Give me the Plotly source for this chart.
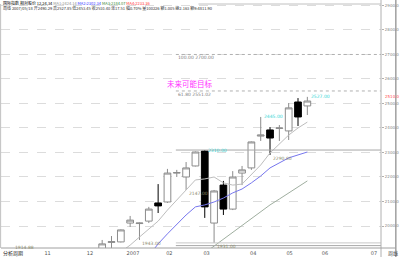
import plotly.graph_objects as go

# ---------------- data (weekly candles) ----------------
dates = ["2006/12/08", "2006/12/15", "2006/12/22", "2006/12/29", "2007/01/05",
         "2007/01/12", "2007/01/19", "2007/01/26", "2007/02/02", "2007/02/09",
         "2007/02/16", "2007/03/02", "2007/03/09", "2007/03/16", "2007/03/23",
         "2007/03/30", "2007/04/06", "2007/04/13", "2007/04/20", "2007/04/27",
         "2007/05/04", "2007/05/11", "2007/05/18"]
opens  = [1895, 1933, 1935, 2012, 2010, 2020, 2094, 2098, 2216, 2200, 2245, 2306,
          2012, 2167, 2069, 2216, 2237, 2367, 2392, 2398, 2388, 2506, 2490]
highs  = [1943, 1959, 1986, 2041, 2014, 2078, 2171, 2233, 2229, 2261, 2304, 2310,
          2147, 2184, 2224, 2245, 2345, 2445, 2404, 2412, 2502, 2522, 2527]
lows   = [1890, 1894, 1933, 1996, 1943, 2012, 2053, 2094, 2200, 2147, 2243, 2033,
          1931, 2045, 2065, 2167, 2229, 2347, 2290, 2347, 2351, 2408, 2453]
closes = [1927, 1936, 1984, 2024, 2012, 2069, 2082, 2216, 2218, 2237, 2302, 2078,
          2143, 2069, 2200, 2229, 2343, 2371, 2359, 2400, 2482, 2445, 2510]

ma1 = [None, None, 1894, 1922, 1955, 1988, 2020, 2065, 2106, 2147, 2188, 2192,
       2200, 2176, 2167, 2171, 2208, 2249, 2298, 2335, 2371, 2400, 2424]
ma2 = [None, None, None, None, None, 1878, 1927, 1968, 2008, 2045, 2078, 2086,
       2098, 2114, 2135, 2151, 2176, 2204, 2237, 2257, 2278, 2290, 2302]
ma3 = [None] * 11 + [1890, 1918, 1943, 1971, 2000, 2029, 2057, 2086, 2110, 2135,
                     2159, 2184]

tick_pos = [-5.85, -1.3, 3.3, 7.2, 11.2, 16.2, 20.1, 23.9, 29.15]
tick_text = ["11", "12", "2007", "02", "03", "04", "05", "06", "07"]
y_ticks = [2000, 2100, 2200, 2300, 2400, 2500, 2600, 2700, 2800, 2900]

fib_anchor = 8            # candle index where the drawn lines begin
fib_base = 2310.0         # 0% level (high of the big black week)
fib_top = 2700.0          # 100% level
fib_levels = [1.0, 0.618, 0.0, -1.0]
support_low = 1931.0      # low of the rebound week

high_labels = [11, 17, 22]
low_labels = [4, 9, 12, 18]
left_low_label = ("1914.88", -9.6, 1914)

target_text = "未来可能目标"
last_price = closes[-1]

x = list(range(len(dates)))
X0, X1 = -10.85, 29.9
Y0, Y1 = 1910.2, 2906

fig = go.Figure()
fig.add_trace(go.Candlestick(
    x=x, open=opens, high=highs, low=lows, close=closes,
    increasing=dict(line=dict(color="#8c8c8c", width=1), fillcolor="#ffffff"),
    decreasing=dict(line=dict(color="#000000", width=1), fillcolor="#000000"),
    whiskerwidth=0, showlegend=False, hoverinfo="skip"))

for vals, col in [(ma3, "#9fae9f"), (ma2, "#7676ee"), (ma1, "#bdbdbd")]:
    fig.add_trace(go.Scatter(x=x, y=vals, mode="lines",
                             line=dict(color=col, width=1), showlegend=False,
                             hoverinfo="skip", connectgaps=False))

shapes = []
annos = []
span = fib_top - fib_base
for lv in fib_levels:
    p = fib_base + lv * span
    solid = lv <= 0
    shapes.append(dict(type="line", xref="x", yref="y", x0=fib_anchor - 0.1, x1=X1,
                       y0=p, y1=p,
                       line=dict(color="#a8a8a8" if solid else "#b0b0b0", width=1,
                                 dash="solid" if solid else "dot")))
    if lv > 0:
        annos.append(dict(x=fib_anchor - 0.1, y=p, xref="x", yref="y",
                          text=f"{lv*100:.2f} {p:.2f}", showarrow=False,
                          xanchor="left", yanchor="top", yshift=1,
                          font=dict(size=4.5, color="#808080", family="DejaVu Sans")))
shapes.append(dict(type="line", xref="x", yref="y", x0=fib_anchor - 0.1, x1=X1,
                   y0=support_low, y1=support_low,
                   line=dict(color="#c8c8c8", width=1)))

for i in high_labels:
    annos.append(dict(x=i + 0.15, y=highs[i], xref="x", yref="y",
                      text=f"{highs[i]:.2f}", showarrow=False,
                      xanchor="left", yanchor="middle",
                      font=dict(size=4.5, color="#33d6d6", family="DejaVu Sans")))
for i in low_labels:
    annos.append(dict(x=i + 0.05, y=lows[i], xref="x", yref="y",
                      text=f"{lows[i]:.2f}", showarrow=False,
                      xanchor="left", yanchor="top", yshift=1,
                      font=dict(size=4.5, color="#8a8a6a", family="DejaVu Sans")))
annos.append(dict(x=left_low_label[1], y=left_low_label[2], xref="x", yref="y",
                  text=left_low_label[0], showarrow=False, xanchor="left",
                  yanchor="middle",
                  font=dict(size=4.5, color="#8a8a6a", family="DejaVu Sans")))

annos.append(dict(x=9.4, y=2580, xref="x", yref="y", text=target_text,
                  showarrow=False, xanchor="center", yanchor="middle",
                  font=dict(size=7.5, color="#ff33ff", family="Noto Sans CJK SC")))

# header rows
def px2py(py):
    return (248 - py) / 244.0

def px2px(pxx):
    return (pxx - 1) / 383.0

row1 = ("<span style='color:#000'>国际指数 相对股价 12,24,34</span> "
        "<span style='color:#909090'>MA1:2424.14</span> "
        "<span style='color:#3333ff'>MA2:2302.34</span> "
        "<span style='color:#338833'>MA3:2184.07</span> "
        "<span style='color:#ff3333'>MA4:2233.36</span>")
row2 = ("周线 2007/05/18 开2490.29 高2527.85 低2453.45 收2510.40 "
        "涨17.51 幅0.70% 量100226 额1.005 换2.163 额9:4811.90")
annos.append(dict(x=0, y=px2py(2.6), xref="paper", yref="paper", text=row1,
                  showarrow=False, xanchor="left", yanchor="middle",
                  font=dict(size=4, color="#000", family="Noto Sans CJK SC")))
annos.append(dict(x=0, y=px2py(7.6), xref="paper", yref="paper", text=row2,
                  showarrow=False, xanchor="left", yanchor="middle",
                  font=dict(size=4, color="#333", family="Noto Sans CJK SC")))

# price tag on right axis (sits just above the 2500.0 label)
annos.append(dict(x=px2px(386), y=last_price, xref="paper", yref="y",
                  text=f"{last_price:.1f}", showarrow=False, xanchor="left",
                  yanchor="bottom", yshift=0,
                  font=dict(size=4, color="#ff5050", family="DejaVu Sans")))
# bottom row texts
annos.append(dict(x=0, y=px2py(253), xref="paper", yref="paper", text="分析周期",
                  showarrow=False, xanchor="left", yanchor="middle",
                  font=dict(size=5, color="#222", family="Noto Sans CJK SC")))
annos.append(dict(x=px2px(389), y=px2py(253), xref="paper", yref="paper", text="周线",
                  showarrow=False, xanchor="left", yanchor="middle",
                  font=dict(size=5, color="#444", family="Noto Sans CJK SC")))

# frame lines
shapes.append(dict(type="line", xref="paper", yref="paper", x0=1, x1=1,
                   y0=px2py(257), y1=px2py(0), line=dict(color="#b0b0b0", width=1)))
shapes.append(dict(type="line", xref="paper", yref="paper", x0=px2px(399), x1=px2px(399),
                   y0=px2py(257), y1=px2py(0), line=dict(color="#707070", width=1)))
shapes.append(dict(type="line", xref="paper", yref="paper", x0=0, x1=px2px(399),
                   y0=0, y1=0, line=dict(color="#a0a0a0", width=1)))
shapes.append(dict(type="line", xref="paper", yref="paper", x0=px2px(200), x1=1,
                   y0=px2py(4), y1=px2py(4), line=dict(color="#c0c0c0", width=1)))
shapes.append(dict(type="line", xref="paper", yref="paper", x0=-0.001, x1=-0.001,
                   y0=0, y1=1, line=dict(color="#c0c0c0", width=1)))

fig.update_layout(
    width=400, height=257, autosize=False,
    margin=dict(l=1, r=16, t=4, b=9, pad=0),
    paper_bgcolor="white", plot_bgcolor="white",
    boxgap=0.1, boxgroupgap=0.2,
    shapes=shapes, annotations=annos,
    xaxis=dict(range=[X0, X1], rangeslider=dict(visible=False), showgrid=False,
               zeroline=False, tickmode="array", tickvals=tick_pos, ticktext=tick_text,
               ticks="", ticklabelstandoff=1,
               tickfont=dict(size=5, color="#555", family="DejaVu Sans"),
               showline=False, fixedrange=True),
    yaxis=dict(range=[Y0, Y1], side="right", showgrid=True, gridcolor="#dcdcdc",
               griddash="dash", gridwidth=1, zeroline=False, tickmode="array",
               tickvals=y_ticks, ticktext=[f"{v:.1f}" for v in y_ticks],
               ticks="outside", ticklen=2, tickcolor="#b0b0b0",
               tickfont=dict(size=4, color="#888", family="DejaVu Sans"),
               showline=False, fixedrange=True),
)

fig.write_html("out.html")
